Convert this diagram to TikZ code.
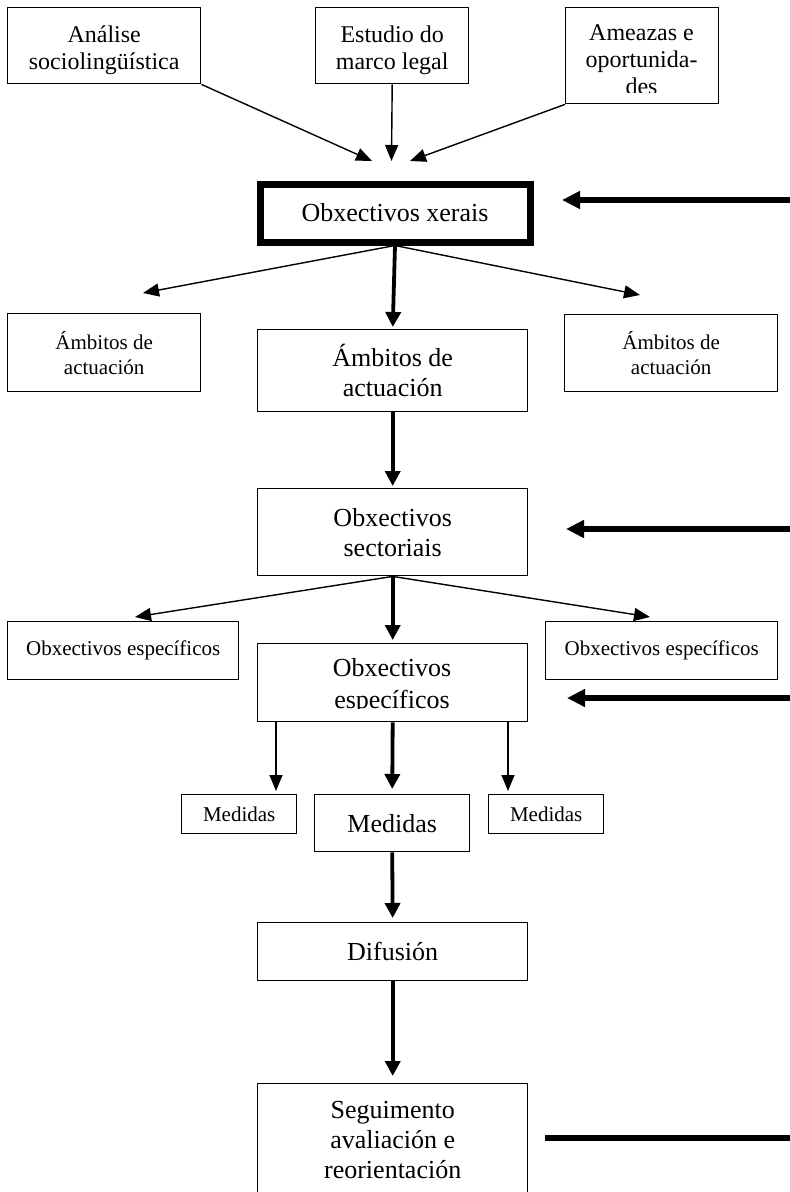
\documentclass[tikz,border=0pt]{standalone}
\usepackage{fontspec}
\setmainfont{Liberation Serif}
\usetikzlibrary{arrows.meta}
\begin{document}
\begin{tikzpicture}[x=1pt,y=-1pt,
  box/.style={draw, line width=1.4pt, inner sep=0pt, align=center, anchor=north west},
  fa/.style={font=\fontsize{21}{25}\selectfont},
  fb/.style={font=\fontsize{24}{27}\selectfont},
  fc/.style={font=\fontsize{26}{30}\selectfont},
  tarrow/.style={line width=1.4pt, -{Triangle[length=16pt,width=13pt]}},
  karrow/.style={line width=3.8pt, -{Triangle[length=15pt,width=15pt]}},
  harrow/.style={line width=5.5pt, -{Triangle[length=18pt,width=17pt]}},
]
\useasboundingbox (0,0) rectangle (790,1192);
\clip (0,0) rectangle (790,1192);
\fill[white] (0,0) rectangle (790,1192);

% top row
\node[box, minimum width=193pt, minimum height=76pt] (ana) at (7,7) {};
\node[fb, align=center] (anatext) at ([yshift=-5pt]ana.center) {Análise\\sociolingüística};
\node[box, minimum width=153pt, minimum height=76pt] (est) at (315,7) {};
\node[fb, align=center] (esttext) at ([yshift=-5pt]est.center) {Estudio do\\marco legal};
\node[box, minimum width=153pt, minimum height=96pt] (ame) at (565,7) {};
\begin{scope}
  \clip (565,7) rectangle (718,92);
  \node[fb, align=center] (ametext) at (641.5,60) {Ameazas e\\oportunida-\\des};
\end{scope}

% general objectives
\node[box, line width=7pt, fc, minimum width=270pt, minimum height=58pt] (xer) at (256.5,180.5) {Obxectivos xerais};

% areas
\node[box, fa, minimum width=193pt, minimum height=78pt] (aml) at (7,313) {Ámbitos de\\actuación};
\node[box, fc, minimum width=270pt, minimum height=82pt] (amc) at (257,329) {Ámbitos de\\actuación};
\node[box, fa, minimum width=213pt, minimum height=77pt] (amr) at (564,314) {Ámbitos de\\actuación};

% sectorial
\node[box, fc, minimum width=270pt, minimum height=87pt] (sec) at (257,488) {Obxectivos\\sectoriais};

% specific
\node[box, fa, minimum width=231pt, minimum height=58pt] (esl) at (7,621) {Obxectivos específicos};
\node[box, fa, minimum width=232pt, minimum height=58pt] (esr) at (545,621) {Obxectivos específicos};
\node[box, minimum width=270pt, minimum height=78pt] (esc) at (257,643) {};
\begin{scope}
  \clip (257,643) rectangle (527,708);
  \node[font=\fontsize{26}{32}\selectfont, align=center] (esctext) at (392,686) {Obxectivos\\específicos};
\end{scope}

% measures
\node[box, fa, minimum width=115pt, minimum height=39pt] (mel) at (181,794) {Medidas};
\node[box, fc, minimum width=155pt, minimum height=57pt] (mec) at (314,794) {Medidas};
\node[box, fa, minimum width=115pt, minimum height=39pt] (mer) at (488,794) {Medidas};

% diffusion and follow-up
\node[box, fc, minimum width=270pt, minimum height=58pt] (dif) at (257,922) {Difusión};
\node[box, fc, minimum width=270pt, minimum height=112pt] (seg) at (257,1083) {Seguimento\\avaliación e\\reorientación};

% free ends
\coordinate (a1) at (372,161);
\coordinate (a2) at (391.5,161);
\coordinate (a3) at (410,161);
\coordinate (b1) at (143,293);
\coordinate (b3) at (640,295);
\coordinate (c1) at (135,617);
\coordinate (c3) at (650,617);
\coordinate (d1) at (276,791);
\coordinate (d3) at (508,791);
\coordinate (r1) at (792,200);
\coordinate (r1t) at (562,200);
\coordinate (r2) at (792,529);
\coordinate (r2t) at (566,529);
\coordinate (r3) at (792,698);
\coordinate (r3t) at (567,698);
\coordinate (s1) at (545,1138);
\coordinate (s2) at (792,1138);

% connectors
\draw[tarrow] (ana.south east) -- (a1);
\draw[tarrow] (est.south) -- (a2);
\draw[tarrow] (ame.south west) -- (a3);

\draw[harrow] (r1) -- (r1t);
\draw[harrow] (r2) -- (r2t);
\draw[harrow] (r3) -- (r3t);
\draw[line width=5.5pt] (s1) -- (s2);

\draw[tarrow] (xer.south) -- (b1);
\draw[tarrow] (xer.south) -- (b3);
\draw[karrow, shorten >=2pt] (xer.south) -- (amc.north);

\draw[karrow, shorten >=2pt] (amc.south) -- (sec.north);

\draw[tarrow] (sec.south) -- (c1);
\draw[tarrow] (sec.south) -- (c3);
\draw[karrow, shorten >=3pt] (sec.south) -- (esc.north);

\draw[tarrow] (esc.south -| d1) -- (d1);
\draw[tarrow] (esc.south -| d3) -- (d3);
\draw[karrow, shorten >=5pt] (esc.south) -- (mec.north);

\draw[karrow, shorten >=4pt] (mec.south) -- (dif.north);
\draw[karrow, shorten >=7pt] (dif.south) -- (seg.north);
\end{tikzpicture}
\end{document}
